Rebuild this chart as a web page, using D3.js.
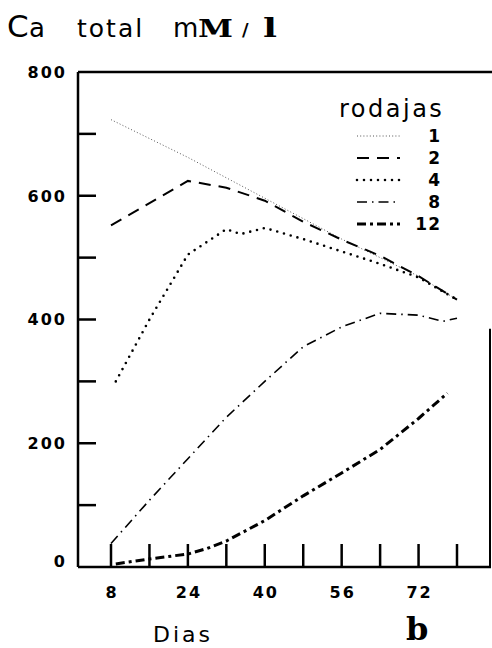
<!DOCTYPE html>
<html>
<head>
<meta charset="utf-8">
<script src="https://cdn.jsdelivr.net/npm/d3@7"></script>
<style>
  body { margin: 0; background: #fff; }
  svg { display: block; }
</style>
</head>
<body>
<div id="graph-container"></div>
<script>
// Data: days vs. total Ca (mM/l), one array per slice count
const rodajas = ["1", "2", "4", "8", "12"];
const s1  = [[8, 723], [24, 662], [40, 596], [56, 530], [72, 470], [80, 432]];
const s2  = [[8, 552], [24, 624], [32, 613], [40, 592], [48, 558], [56, 529], [64, 503], [72, 470], [80, 432]];
const s4  = [[9, 300], [16, 400], [24, 505], [32, 546], [35, 538], [40, 548], [48, 530], [56, 510], [64, 490], [72, 468], [80, 432]];
const s8  = [[8, 38], [16, 108], [24, 175], [32, 242], [40, 300], [48, 356], [56, 388], [64, 410], [72, 407], [77, 397], [80, 402]];
const s12 = [[9, 5], [16, 13], [24, 21], [28, 30], [32, 42], [40, 75], [48, 115], [56, 152], [64, 190], [72, 240], [78, 281]];
const xTickValues = [8, 16, 24, 32, 40, 48, 56, 64, 72, 80];
const xTickLabels = [8, 24, 40, 56, 72];
const yTickValues = [100, 200, 300, 400, 500, 600, 700];
const yTickLabels = [0, 200, 400, 600, 800];

const width = 492, height = 648;
const left = 78, right = 491;

// Scales
const x = d3.scaleLinear().domain([8, 80]).range([111, 457]);
const y = d3.scaleLinear().domain([0, 800]).range([567, 72]);

const svg = d3.select("#graph-container")
  .append("svg")
    .attr("width", width)
    .attr("height", height);

// Frame: left axis, bottom axis, top border, partial right border
const frame = svg.append("g").attr("stroke", "#000").attr("fill", "none");
frame.append("line").attr("x1", left).attr("x2", left).attr("y1", y(800)).attr("y2", y(0)).attr("stroke-width", 2.5);
frame.append("line").attr("x1", left).attr("x2", right).attr("y1", y(0)).attr("y2", y(0)).attr("stroke-width", 2.5);
frame.append("line").attr("x1", left).attr("x2", width).attr("y1", y(800)).attr("y2", y(800)).attr("stroke-width", 2.5);
frame.append("line").attr("x1", right - 1).attr("x2", right - 1).attr("y1", y(385)).attr("y2", y(0)).attr("stroke-width", 2);

// Inward ticks
frame.selectAll(".yt").data(yTickValues).join("line")
  .attr("x1", left).attr("x2", left + 18)
  .attr("y1", d => y(d)).attr("y2", d => y(d))
  .attr("stroke-width", 2.5);
frame.selectAll(".xt").data(xTickValues).join("line")
  .attr("x1", d => x(d)).attr("x2", d => x(d))
  .attr("y1", y(0)).attr("y2", y(0) - 23)
  .attr("stroke-width", 2.5);

// Tick labels
const tickFont = { family: "DejaVu Sans", size: "16px", weight: "bold" };
svg.selectAll(".yl").data(yTickLabels).join("text")
  .attr("x", 67)
  .attr("y", d => d === 0 ? y(0) - 6 : y(d))
  .attr("dy", "0.36em")
  .attr("text-anchor", "end")
  .attr("font-family", tickFont.family).attr("font-size", tickFont.size).attr("font-weight", tickFont.weight)
  .attr("letter-spacing", 2)
  .text(d => d);
svg.selectAll(".xl").data(xTickLabels).join("text")
  .attr("x", d => x(d) + 1)
  .attr("y", 598)
  .attr("text-anchor", "middle")
  .attr("font-family", tickFont.family).attr("font-size", tickFont.size).attr("font-weight", tickFont.weight)
  .attr("letter-spacing", 2)
  .text(d => d);

// Series styles
const styles = {
  "1":  { data: s1,  width: 1,   dash: "1,2.2",        cap: "butt",  color: "#555" },
  "2":  { data: s2,  width: 2,   dash: "12,8",         cap: "butt",  color: "#000" },
  "4":  { data: s4,  width: 2.6, dash: "0,7",          cap: "round", color: "#000" },
  "8":  { data: s8,  width: 1.6, dash: "10,5,1.5,5",   cap: "butt",  color: "#000" },
  "12": { data: s12, width: 3,   dash: "9,4,3,4",      cap: "butt",  color: "#000" }
};

const line = d3.line()
  .x(d => x(d[0]))
  .y(d => y(d[1]));

rodajas.forEach(k => {
  const s = styles[k];
  svg.append("path")
    .datum(s.data)
    .attr("fill", "none")
    .attr("stroke", s.color)
    .attr("stroke-width", s.width)
    .attr("stroke-dasharray", s.dash)
    .attr("stroke-linecap", s.cap)
    .attr("d", line);
});

// Legend
svg.append("text")
  .attr("x", 339).attr("y", 117)
  .attr("font-family", "DejaVu Sans").attr("font-size", "24px")
  .attr("letter-spacing", 2.5)
  .text("rodajas");
rodajas.forEach((k, i) => {
  const s = styles[k];
  const ly = 136 + i * 22;
  svg.append("line")
    .attr("x1", 357).attr("x2", 400)
    .attr("y1", ly).attr("y2", ly)
    .attr("stroke", s.color)
    .attr("stroke-width", s.width)
    .attr("stroke-dasharray", s.dash)
    .attr("stroke-linecap", s.cap);
  svg.append("text")
    .attr("x", 441).attr("y", ly)
    .attr("dy", "0.36em")
    .attr("text-anchor", "end")
    .attr("font-family", tickFont.family).attr("font-size", "17px").attr("font-weight", tickFont.weight)
    .attr("letter-spacing", 1)
    .text(k);
});

// Title
const title = svg.append("g");
title.append("text").attr("x", 7).attr("y", 37)
  .attr("font-family", "DejaVu Sans").attr("font-size", "31px").text("C");
title.append("text").attr("x", 29).attr("y", 37)
  .attr("font-family", "DejaVu Sans").attr("font-size", "26px").text("a");
title.append("text").attr("x", 77).attr("y", 37)
  .attr("font-family", "DejaVu Sans").attr("font-size", "25px").attr("letter-spacing", 2).text("total");
title.append("text").attr("x", 173).attr("y", 37)
  .attr("font-family", "DejaVu Sans").attr("font-size", "26px").text("m");
title.append("text").attr("x", 198).attr("y", 37)
  .attr("font-family", "DejaVu Serif").attr("font-weight", "bold").attr("font-size", "24px")
  .attr("textLength", 35).attr("lengthAdjust", "spacingAndGlyphs").text("M");
title.append("text").attr("x", 242).attr("y", 36)
  .attr("font-family", "DejaVu Sans").attr("font-weight", "bold").attr("font-size", "18px").text("/");
title.append("text").attr("x", 263).attr("y", 37)
  .attr("font-family", "DejaVu Serif").attr("font-weight", "bold").attr("font-size", "26px")
  .attr("textLength", 14).attr("lengthAdjust", "spacingAndGlyphs").text("l");

// Axis title and panel letter
svg.append("text").attr("x", 153).attr("y", 642)
  .attr("font-family", "DejaVu Sans").attr("font-size", "22px").attr("letter-spacing", 3).text("Dias");
svg.append("text").attr("x", 406).attr("y", 640)
  .attr("font-family", "DejaVu Serif").attr("font-weight", "bold").attr("font-size", "32px").text("b");
</script>
</body>
</html>
